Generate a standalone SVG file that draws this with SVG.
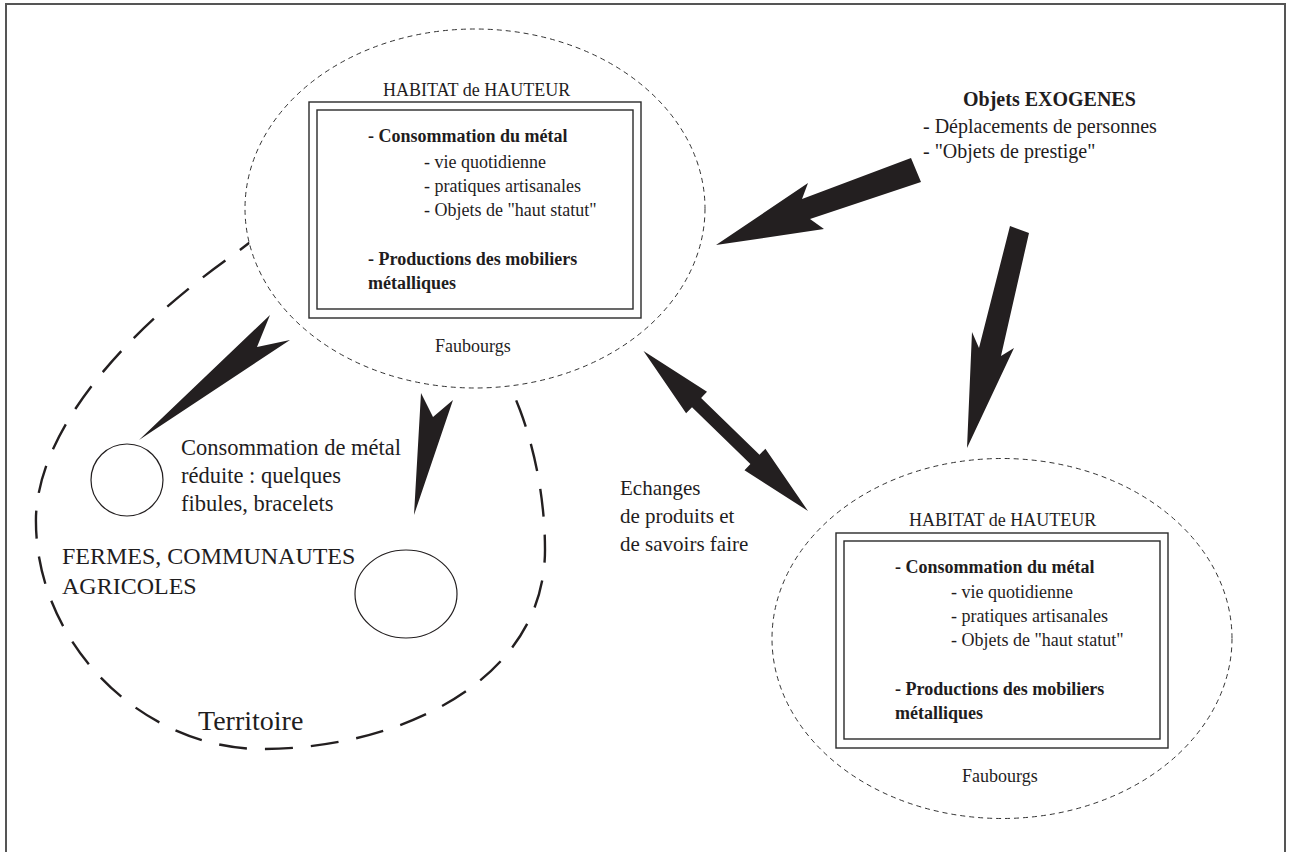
<svg xmlns="http://www.w3.org/2000/svg" width="1290" height="852" viewBox="0 0 1290 852">
<style>
  text { font-family: "Liberation Serif", "Times New Roman", serif; fill: #1f1d1e; }
  .n18 { font-size: 18px; }
  .b18 { font-size: 18px; font-weight: bold; }
  .zone { fill: #fff; stroke: #333; stroke-width: 1; stroke-dasharray: 5 4; }
  .frame-o { fill: none; stroke: #2a2a2a; stroke-width: 1.4; }
  .frame-i { fill: none; stroke: #2a2a2a; stroke-width: 1.4; }
  .arrow { fill: #231f20; stroke: none; }
  .farm { fill: #fff; stroke: #231f20; stroke-width: 1.2; }
</style>
<rect x="6" y="4" width="1279" height="900" fill="#fff" stroke="#555" stroke-width="2"/>

<g id="territoire">
  <path d="M 262,233 C 253,240 245,246 236,253 C 140,320 40,420 36,516 C 33,640 140,749 262,749 C 400,749 545,680 545,550 C 545,500 535,450 520,410 L 505,372" fill="none" stroke="#231f20" stroke-width="2.4" stroke-dasharray="28 18"/>
  <text x="198" y="730" style="font-size:28px">Territoire</text>
</g>

<g id="habitat-1">
  <ellipse class="zone" cx="475" cy="208.5" rx="230" ry="179.5"/>
  <text class="n18" x="383" y="96">HABITAT de HAUTEUR</text>
  <rect class="frame-o" x="309" y="102" width="332" height="216"/>
  <rect class="frame-i" x="317" y="110" width="316" height="199"/>
  <text class="b18" x="368" y="142">- Consommation du métal</text>
  <text class="n18" x="424" y="168">- vie quotidienne</text>
  <text class="n18" x="424" y="192">- pratiques artisanales</text>
  <text class="n18" x="424" y="216">- Objets de "haut statut"</text>
  <text class="b18" x="368" y="265">- Productions des mobiliers</text>
  <text class="b18" x="368" y="289">métalliques</text>
  <text class="n18" x="435" y="352">Faubourgs</text>
</g>

<g id="habitat-2">
  <ellipse class="zone" cx="1002" cy="638.5" rx="230" ry="180"/>
  <text class="n18" x="909" y="526">HABITAT de HAUTEUR</text>
  <rect class="frame-o" x="836" y="533" width="332" height="215"/>
  <rect class="frame-i" x="844" y="541" width="316" height="198"/>
  <text class="b18" x="895" y="573">- Consommation du métal</text>
  <text class="n18" x="951" y="598">- vie quotidienne</text>
  <text class="n18" x="951" y="622">- pratiques artisanales</text>
  <text class="n18" x="951" y="646">- Objets de "haut statut"</text>
  <text class="b18" x="895" y="695">- Productions des mobiliers</text>
  <text class="b18" x="895" y="719">métalliques</text>
  <text class="n18" x="962" y="782">Faubourgs</text>
</g>

<g id="exogenes">
  <text x="963" y="106" style="font-size:20px;font-weight:bold">Objets EXOGENES</text>
  <text x="923" y="133" style="font-size:20px">- Déplacements de personnes</text>
  <text x="923" y="158" style="font-size:20px">- "Objets de prestige"</text>
</g>

<g id="ferme-1">
  <ellipse class="farm" cx="127" cy="480" rx="36" ry="36"/>
</g>
<g id="ferme-2">
  <ellipse class="farm" cx="406" cy="594" rx="51" ry="44"/>
</g>

<g id="label-fermes">
  <text x="62" y="564" style="font-size:24px">FERMES, COMMUNAUTES</text>
  <text x="62" y="594" style="font-size:24px">AGRICOLES</text>
</g>

<g id="label-consommation">
  <text x="181" y="455" style="font-size:22.5px">Consommation de métal</text>
  <text x="181" y="483" style="font-size:22.5px">réduite : quelques</text>
  <text x="181" y="511" style="font-size:22.5px">fibules, bracelets</text>
</g>

<g id="label-echanges">
  <text x="620" y="495" style="font-size:21px">Echanges</text>
  <text x="620" y="523" style="font-size:21px">de produits et</text>
  <text x="620" y="551" style="font-size:21px">de savoirs faire</text>
</g>

<g id="connectors">
  <polygon class="arrow" points="911,158 921,182 810,219 824,229 716,245 808,183 802,199"/>
  <polygon class="arrow" points="1010,226 979,348 972,332 967,448 1014,348 1001,356 1029,233"/>
  <polygon class="arrow" points="643.5,351 707,391.8 701.1,397.9 759.5,454.7 765.4,448.7 808,511 744.5,470.2 750.4,464.1 692,407.3 686.1,413.3"/>
  <polygon class="arrow" points="139,440 270,315 257,347 290,340"/>
  <polygon class="arrow" points="414,515 421,393 433,417 453,400"/>
</g>
</svg>
